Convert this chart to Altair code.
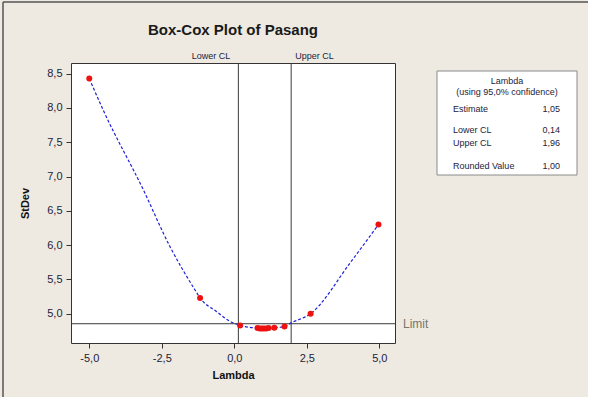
import altair as alt
import pandas as pd

# ---- data ----
point_lambda = [-5.0, -1.18, 0.20, 0.80, 0.88, 0.95, 1.02, 1.10, 1.18, 1.38, 1.73, 2.63, 4.97]
point_stdev = [8.43, 5.23, 4.83, 4.79, 4.785, 4.785, 4.785, 4.785, 4.79, 4.795, 4.815, 5.00, 6.30]

curve_lambda = [-5.0, -4.52, -3.14, -2.22, -1.36, -1.18, -0.61, -0.15, 0.20, 0.80, 1.05, 1.38, 1.73, 1.98, 2.63, 3.99, 4.97]
curve_stdev = [8.43, 7.97, 6.81, 5.98, 5.35, 5.23, 5.03, 4.89, 4.83, 4.79, 4.785, 4.795, 4.815, 4.87, 5.00, 5.74, 6.30]

lower_cl = 0.14
upper_cl = 1.96
limit_stdev = 4.854

x_ticks = [-5.0, -2.5, 0.0, 2.5, 5.0]
y_ticks = [5.0, 5.5, 6.0, 6.5, 7.0, 7.5, 8.0, 8.5]

title_text = "Box-Cox Plot of Pasang"
legend_header = ["Lambda", "(using 95,0% confidence)"]
legend_labels = ["Estimate", "Lower CL", "Upper CL", "Rounded Value"]
legend_values = ["1,05", "0,14", "1,96", "1,00"]

# ---- layout (pixels) ----
W, H = 324, 280
PAD_L, PAD_T = 71, 63
BG = "#EEEAE1"
TXT = "#23233a"
FONT = "Liberation Sans"

x_scale = alt.Scale(domain=[-5.63, 5.54], nice=False, zero=False)
y_scale = alt.Scale(domain=[4.573, 8.656], nice=False, zero=False)

comma = "replace(replace(format(datum.value, '.1f'), '.', ','), '\u2212', '-')"

pts = pd.DataFrame({"lam": point_lambda, "sd": point_stdev})
curve = pd.DataFrame({"lam": curve_lambda, "sd": curve_stdev})
one = pd.DataFrame({"a": [0]})

common_axis = dict(labelExpr=comma, grid=False, domain=False, tickSize=5,
                   tickColor="#333333", labelPadding=4, labelFontSize=11,
                   labelColor=TXT, labelFont=FONT, labelOverlap=False,
                   titleFont=FONT, titleFontSize=11, titleFontWeight="bold",
                   titleColor="#111111", zindex=1)
x_axis = alt.Axis(values=x_ticks, titlePadding=6, **common_axis)
y_axis = alt.Axis(values=y_ticks, titlePadding=16, **common_axis)

X = alt.X("lam:Q", scale=x_scale, title="Lambda", axis=x_axis)
Y = alt.Y("sd:Q", scale=y_scale, title="StDev", axis=y_axis)

line = alt.Chart(curve).mark_line(
    color="#1f1fd8", strokeDash=[3, 2], strokeWidth=1.2, interpolate="monotone"
).encode(x=X, y=Y)

points = alt.Chart(pts).mark_point(
    filled=True, color="#ee1111", size=36, shape="circle", opacity=1
).encode(x=X, y=Y)

cl = pd.DataFrame({"lam": [lower_cl, upper_cl]})
cl_rules = alt.Chart(cl).mark_rule(color="#3a3a3a", strokeWidth=1).encode(
    x=X, y=alt.value(0), y2=alt.value(H))

lim = pd.DataFrame({"sd": [limit_stdev]})
limit_rule = alt.Chart(lim).mark_rule(color="#3a3a3a", strokeWidth=1).encode(
    y=Y, x=alt.value(0), x2=alt.value(W))
limit_text = alt.Chart(lim).mark_text(
    text="Limit", align="left", baseline="middle", fontSize=12, font=FONT, color="#77776a"
).encode(y=Y, x=alt.value(W + 8))

lower_text = alt.Chart(pd.DataFrame({"lam": [lower_cl]})).mark_text(
    text="Lower CL", align="right", baseline="middle", dx=-8, fontSize=9, font=FONT, color=TXT
).encode(x=X, y=alt.value(-7))
upper_text = alt.Chart(pd.DataFrame({"lam": [upper_cl]})).mark_text(
    text="Upper CL", align="left", baseline="middle", dx=4, fontSize=9, font=FONT, color=TXT
).encode(x=X, y=alt.value(-7))

title = alt.Chart(one).mark_text(
    text=title_text, align="center", baseline="middle", fontSize=15, fontWeight="bold",
    font=FONT, color="#1a1a1a"
).encode(x=alt.value(W / 2), y=alt.value(-33))

# outer frame (left and top edges) and white strip at right
frame_left = alt.Chart(one).mark_rule(color="#555555", strokeWidth=1.5).encode(
    x=alt.value(-68), y=alt.value(-61), y2=alt.value(H + 60))
frame_top = alt.Chart(one).mark_rule(color="#555555", strokeWidth=1.5).encode(
    y=alt.value(-61), x=alt.value(-68), x2=alt.value(517))
right_strip = alt.Chart(one).mark_rect(color="white").encode(
    x=alt.value(517), x2=alt.value(530), y=alt.value(-70), y2=alt.value(H + 60))

# legend box
LX0, LX1, LY0, LY1 = 366, 506, 8, 112
legend_box = alt.Chart(one).mark_rect(fill="white", stroke="#8a8a8a", strokeWidth=1).encode(
    x=alt.value(LX0), x2=alt.value(LX1), y=alt.value(LY0), y2=alt.value(LY1))
header_y = [18, 29]
hdr = pd.DataFrame({"t": legend_header, "py": header_y})
legend_hdr = alt.Chart(hdr).mark_text(
    align="center", baseline="middle", fontSize=9, font=FONT, color=TXT
).encode(text="t:N", x=alt.value((LX0 + LX1) / 2), y=alt.Y("py:Q", scale=None))
row_y = [46, 67, 80, 103]
rows = pd.DataFrame({"lab": legend_labels, "val": legend_values, "py": row_y})
legend_lab = alt.Chart(rows).mark_text(
    align="left", baseline="middle", fontSize=9, font=FONT, color=TXT
).encode(text="lab:N", x=alt.value(LX0 + 16), y=alt.Y("py:Q", scale=None))
legend_val = alt.Chart(rows).mark_text(
    align="right", baseline="middle", fontSize=9, font=FONT, color=TXT
).encode(text="val:N", x=alt.value(LX1 - 17), y=alt.Y("py:Q", scale=None))

chart = alt.layer(
    frame_left, frame_top, right_strip,
    cl_rules, limit_rule, line, points,
    limit_text, lower_text, upper_text, title,
    legend_box, legend_hdr, legend_lab, legend_val,
).properties(
    width=W, height=H,
    autosize=alt.AutoSizeParams(type="none"),
    padding={"left": PAD_L, "top": PAD_T, "right": 594 - PAD_L - W, "bottom": 397 - PAD_T - H},
    background=BG,
).configure_view(
    fill="white", stroke="#333333", strokeWidth=1
)

chart.save("out.html", embed_options={"renderer": "svg", "actions": False})
